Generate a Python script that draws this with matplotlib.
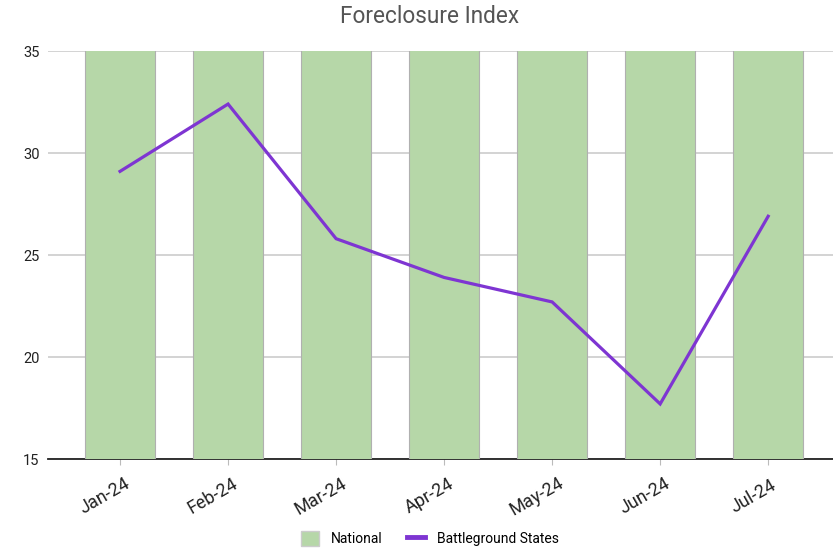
import matplotlib
matplotlib.use("Agg")
import matplotlib.pyplot as plt
import matplotlib.transforms as mtransforms
from matplotlib.lines import Line2D
from matplotlib.patches import Patch

plt.rcParams['font.family'] = ['Roboto', 'DejaVu Sans']

months = ["Jan-24", "Feb-24", "Mar-24", "Apr-24", "May-24", "Jun-24", "Jul-24"]
national = [100, 100, 100, 100, 100, 100, 100]  # off the top of the chart
battleground = [29.1, 32.4, 25.8, 23.9, 22.7, 17.7, 26.9]
y_ticks = [15, 20, 25, 30, 35]

fig = plt.figure(figsize=(8.33, 5.49), dpi=100)
ax = fig.add_axes([0.0576, 0.1639, 0.9424, 0.7432])

x = list(range(len(months)))
ax.bar(x, national, width=0.65, color="#b6d7a8", edgecolor="#b0b0b0",
       linewidth=0.8, zorder=2)
ax.plot(x, battleground, color="#7e35d2", linewidth=2.3, zorder=3,
        solid_joinstyle="miter")

ax.set_ylim(15, 35)
ax.set_xlim(-0.667, 6.6)
ax.set_yticks(y_ticks)
ax.set_yticklabels([str(v) for v in y_ticks], fontsize=10.5, color="#222222")
ax.set_xticks(x)
ax.set_xticklabels([])
ax.tick_params(axis="y", length=0, pad=6)
ax.tick_params(axis="x", length=4, color="#bbbbbb")

# month labels, rotated and set a little left of each tick
lbl_tf = mtransforms.blended_transform_factory(ax.transData, ax.transAxes) + \
    mtransforms.ScaledTranslation(-15 / 100, -37 / 100, fig.dpi_scale_trans)
for xi, m in zip(x, months):
    ax.text(xi, 0, m, transform=lbl_tf, rotation=30, fontsize=13,
            color="#222222", ha="center", va="center")

ax.grid(axis="y", color="#cccccc", linewidth=1.2, zorder=0)
ax.set_axisbelow(True)
for side in ["top", "right", "left"]:
    ax.spines[side].set_visible(False)
ax.spines["bottom"].set_color("#222222")
ax.spines["bottom"].set_linewidth(1.3)
ax.spines["bottom"].set_zorder(1)

fig.suptitle("Foreclosure Index", x=0.516, y=0.99, fontsize=16.3, color="#555555")

handles = [Patch(facecolor="#b6d7a8", edgecolor="#cccccc", label="National"),
           Line2D([0], [0], color="#7e35d2", linewidth=3.5, label="Battleground States")]
fig.legend(handles=handles, loc="lower center", bbox_to_anchor=(0.516, -0.018),
           ncol=2, frameon=False, fontsize=10, handlelength=1.3, handleheight=1.37,
           columnspacing=1.8, handletextpad=0.85)

fig.savefig("out.png", dpi=100)
